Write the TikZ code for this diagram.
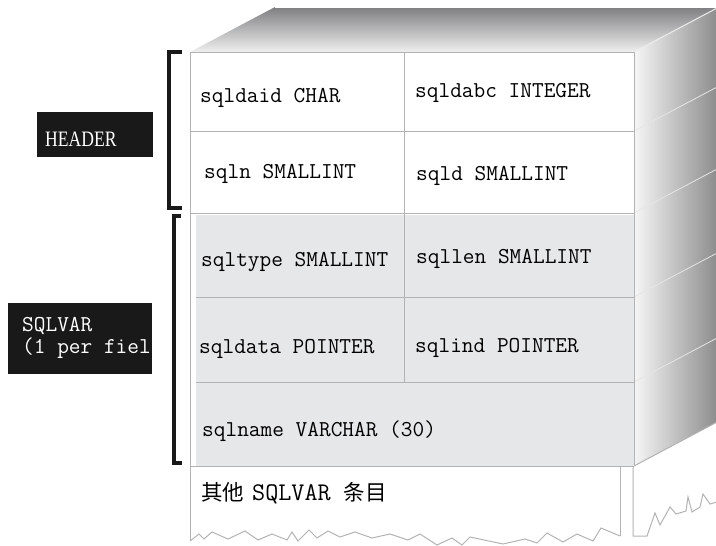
\documentclass[tikz,border=0pt]{standalone}
\usepackage{fontspec}
\newfontfamily\cjkfont{Noto Sans CJK SC}
\newfontfamily\tagfont[FakeStretch=0.8]{Liberation Serif}
\usepackage{xcolor}
\usepackage{tikz}
\usetikzlibrary{positioning}

\definecolor{gridgray}{HTML}{B3B3B3}
\definecolor{cellgray}{HTML}{E6E7E8}
\definecolor{topdark}{HTML}{7E7F81}
\definecolor{toplight}{HTML}{EFEFEF}
\definecolor{sidedark}{HTML}{8A8A8B}
\definecolor{sidelight}{HTML}{F6F6F6}

\begin{document}
\begin{tikzpicture}[
    x=1pt, y=-1pt,
    field/.style={anchor=base west, inner sep=0pt, font=\fontsize{22.7}{26}\selectfont\ttfamily},
    cjkfield/.style={field, font=\fontsize{21.5}{26}\selectfont\cjkfont},
    gridline/.style={draw=gridgray, line width=1pt},
    bracket/.style={draw=black!90, line width=3.5pt},
    tagbox/.style={rectangle, fill=black!90, inner sep=0pt},
    tagtext/.style={field, text=white}
]
\useasboundingbox (0,0) rectangle (716,546);
\begin{scope}
\clip (0,0) rectangle (716,546);

% Top face
\shade[top color=topdark, bottom color=toplight] (190,52) -- (275,7) -- (719,7) -- (634,52) -- cycle;
\draw[white, line width=1pt] (275,7) -- (719,7);

% Side face
\shade[left color=sidelight, right color=sidedark] (634,52) -- (719,7) -- (719,421) -- (634,466) -- cycle;
\draw[white!85!gray, line width=1pt] (634,52) -- (719,7);
\foreach \y in {131,213,297,382}
    \draw[white!80!gray, line width=0.8pt] (634,\y) -- (719,\y-45);
\draw[gridline] (634,466) -- (719,421);

% Front face
\fill[white] (190,52) rectangle (634,466);
\fill[cellgray] (196,215) rectangle (634,466);
\draw[gridline] (190,52) -- (634,52);
\draw[gridline] (190,52) -- (190,541);
\draw[gridline] (634,52) -- (634,466);
\draw[gridline] (190,131) -- (634,131);
\draw[gridline] (190,213) -- (634,213);
\draw[gridline] (196,297) -- (634,297);
\draw[gridline] (196,382) -- (634,382);
\draw[gridline] (190,466) -- (634,466);
\draw[gridline] (404,52) -- (404,382);

% Torn-off part below
\draw[gridline] (620,466) -- (620,536);
\draw[gridline] (190,541) -- (199,534) -- (204,539) -- (212,532) -- (228,539) -- (245,531)
    -- (258,540) -- (272,534) -- (287,540) -- (292,532) -- (298,541) -- (309,530)
    -- (317,538) -- (328,531) -- (340,537) -- (355,532) -- (372,538) -- (390,534)
    -- (408,540) -- (420,534) -- (437,545) -- (452,538) -- (462,545) -- (470,537)
    -- (503,544) -- (525,539) -- (537,543) -- (547,533) -- (563,542) -- (577,534)
    -- (593,541) -- (601,528) -- (620,536);
\draw[gridline] (633,467) -- (633,536) -- (647,536) -- (655,513) -- (660,525) -- (670,507)
    -- (676,514) -- (686,511) -- (688,497) -- (692,512) -- (700,507) -- (703,494)
    -- (710,504) -- (717,502);
\end{scope}

% Fields
\node[field] (sqldaid) at (200,102) {sqldaid CHAR};
\node[field] (sqldabc) at (415,97) {sqldabc INTEGER};
\node[field] (sqln) at (204,178) {sqln SMALLINT};
\node[field] (sqld) at (416,180) {sqld SMALLINT};
\node[field] (sqltype) at (201,266) {sqltype SMALLINT};
\node[field] (sqllen) at (416,263) {sqllen SMALLINT};
\node[field] (sqldata) at (199,353) {sqldata POINTER};
\node[field] (sqlind) at (415,352) {sqlind POINTER};
\node[field] (sqlname) at (202,436) {sqlname VARCHAR (30)};
\node[cjkfield] (others) at (201,500)
    {其他\hspace{8pt}{\fontsize{25.4}{26}\selectfont\ttfamily SQLVAR}\hspace{13pt}条目};

% Brackets
\draw[bracket] (182,52) -| (169,208) -- (182,208);
\draw[bracket] (181,216) -| (174,463) -- (182,463);

% HEADER
\node[tagbox, minimum width=116pt, minimum height=45pt] (headerbox) at (95,134.5) {};
\node[field, font=\fontsize{22}{26}\selectfont\tagfont, text=white] (headertxt) at (45,146) {HEADER};

% SQLVAR
\node[tagbox, minimum width=144pt, minimum height=71pt] (sqlvarbox) at (80,338.5) {};
\node[tagtext] (sqlvartxt) at (22,331) {SQLVAR};
\node[tagtext] (pertxt) at (22,353) {(1 per fiel};

\end{tikzpicture}
\end{document}
